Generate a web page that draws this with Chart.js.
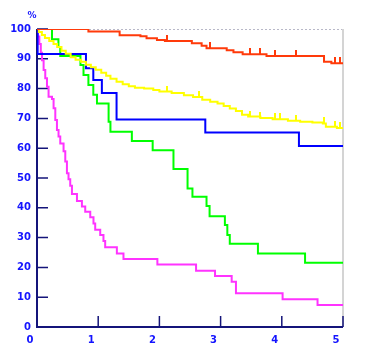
<!DOCTYPE html>
<html>
<head>
<meta charset="UTF-8">
<title>Survival curves</title>
<script src="https://cdn.jsdelivr.net/npm/chart.js@4.4.0/dist/chart.umd.min.js"></script>
<style>
    html, body { margin: 0; padding: 0; background: #fff; }
    #wrap { width: 365px; height: 364px; position: relative; }
</style>
</head>
<body>
<div id="wrap"><canvas id="km"></canvas></div>
<script>
// axis ticks
const xTicks = [0, 1, 2, 3, 4, 5];
const yTicks = [0, 10, 20, 30, 40, 50, 60, 70, 80, 90, 100];
const yUnit = '%';

// step curves: time (years) where the value changes, and the value after it
const redT = [0, 0.84, 1.35, 1.69, 1.79, 1.96, 2.09, 2.53, 2.69, 2.77, 3.10, 3.21, 3.36, 3.75, 4.69, 4.81, 5];
const redV = [100, 99.2, 97.9, 97.6, 96.9, 96.3, 96.0, 95.2, 94.4, 93.5, 92.9, 92.2, 91.5, 90.9, 89.0, 88.5, 88.5];

const yellowT = [0, 0.03, 0.08, 0.13, 0.2, 0.27, 0.33, 0.4, 0.47, 0.55, 0.63, 0.72, 0.8, 0.88, 0.96, 1.05, 1.13, 1.2, 1.3, 1.4, 1.5, 1.6, 1.75, 1.9, 2.0, 2.2, 2.4, 2.55, 2.7, 2.83, 2.95, 3.05, 3.15, 3.25, 3.35, 3.45, 3.65, 3.85, 4.1, 4.3, 4.5, 4.67, 4.72, 4.9, 5];
const yellowV = [100, 99, 98, 97, 96, 95, 94, 92.7, 91.7, 90.5, 89.7, 89, 88, 87.2, 86.3, 85.3, 84.3, 83.3, 82.3, 81.5, 80.8, 80.3, 80, 79.5, 79, 78.5, 77.8, 77.2, 76.3, 75.6, 75, 74.2, 73.3, 72.5, 71.2, 70.6, 70.1, 69.7, 69.2, 68.9, 68.6, 68.3, 67.2, 66.8, 66.8];

const blueT = [0, 0.01, 0.80, 0.92, 1.06, 1.30, 2.75, 4.28, 5];
const blueV = [100, 91.6, 86.8, 82.9, 78.5, 69.6, 65.3, 60.7, 60.7];

const greenT = [0, 0.245, 0.35, 0.38, 0.71, 0.76, 0.84, 0.92, 0.98, 1.17, 1.2, 1.55, 1.89, 2.23, 2.46, 2.54, 2.77, 2.82, 3.07, 3.11, 3.15, 3.61, 4.38, 5];
const greenV = [100, 96.6, 94, 90.9, 87.9, 84.6, 81.2, 77.9, 75, 68.9, 65.5, 62.4, 59.3, 53, 46.5, 43.7, 40.6, 37.2, 34.2, 30.9, 27.9, 24.7, 21.6, 21.6];

const magentaT = [0, 0.013, 0.038, 0.062, 0.082, 0.108, 0.135, 0.163, 0.189, 0.245, 0.271, 0.299, 0.326, 0.352, 0.380, 0.434, 0.462, 0.489, 0.515, 0.543, 0.571, 0.653, 0.734, 0.788, 0.870, 0.923, 0.951, 1.033, 1.086, 1.114, 1.305, 1.413, 1.967, 2.599, 2.909, 3.181, 3.251, 4.013, 4.584, 5];
const magentaV = [100, 97.5, 95, 92, 89.5, 86.2, 83.5, 80.6, 77.3, 76.5, 73.4, 69.5, 66.1, 63.9, 61.6, 59, 55.5, 51.6, 49.6, 47.4, 44.6, 42.3, 40.4, 38.7, 36.8, 34.7, 32.6, 30.9, 28.9, 26.8, 24.7, 22.8, 21, 18.9, 17.1, 15.2, 11.3, 9.3, 7.4, 7.4];

// censored observations (tick marks on the curves)
const redCensor = [2.12, 2.83, 3.48, 3.65, 3.89, 4.24, 4.69, 4.87, 4.95];
const yellowCensor = [2.12, 2.65, 3.48, 3.65, 3.89, 3.97, 4.24, 4.69, 4.87, 4.95];

const AXIS = '#14147a';
const LABEL = '#1414ff';

function steps(T, V) {
    return T.map((t, i) => ({ x: t, y: V[i] }));
}

function valueAt(T, V, t) {
    let v = V[0];
    for (let i = 0; i < T.length; i++) {
        if (T[i] <= t) v = V[i];
    }
    return v;
}

function censorMark(color) {
    const c = document.createElement('canvas');
    c.width = 2;
    c.height = 12;
    const g = c.getContext('2d');
    g.fillStyle = color;
    g.fillRect(0, 0, 2, 6);
    return c;
}

function curve(T, V, color, order) {
    return {
        data: steps(T, V),
        borderColor: color,
        borderWidth: 2,
        stepped: true,
        pointRadius: 0,
        fill: false,
        order: order
    };
}

function censors(times, T, V, color) {
    return {
        data: times.map(t => ({ x: t, y: valueAt(T, V, t) })),
        showLine: false,
        pointStyle: censorMark(color),
        pointRadius: 4,
        order: 1
    };
}

const framePlugin = {
    id: 'frame',
    beforeDatasetsDraw(chart) {
        const { ctx, chartArea: a, scales } = chart;
        ctx.save();
        // top dashed border
        ctx.strokeStyle = '#b8b8c8';
        ctx.lineWidth = 1;
        ctx.setLineDash([2, 2]);
        ctx.beginPath();
        ctx.moveTo(a.left, a.top + 0.5);
        ctx.lineTo(a.right, a.top + 0.5);
        ctx.stroke();
        ctx.setLineDash([]);
        // right border
        ctx.strokeStyle = '#d4d4d4';
        ctx.lineWidth = 2;
        ctx.beginPath();
        ctx.moveTo(a.right, a.top);
        ctx.lineTo(a.right, a.bottom);
        ctx.stroke();
        // inside tick marks
        ctx.strokeStyle = AXIS;
        ctx.lineWidth = 1.5;
        ctx.beginPath();
        yTicks.forEach(v => {
            const y = scales.y.getPixelForValue(v);
            ctx.moveTo(a.left, y);
            ctx.lineTo(a.left + 11, y);
        });
        xTicks.forEach(v => {
            const x = scales.x.getPixelForValue(v);
            ctx.moveTo(x, a.bottom);
            ctx.lineTo(x, a.bottom - 11);
        });
        ctx.stroke();
        // axes
        ctx.lineWidth = 2;
        ctx.beginPath();
        ctx.moveTo(a.left, a.top);
        ctx.lineTo(a.left, a.bottom);
        ctx.lineTo(a.right, a.bottom);
        ctx.stroke();
        ctx.restore();
    },
    afterDraw(chart) {
        const { ctx, chartArea: a } = chart;
        ctx.save();
        ctx.fillStyle = LABEL;
        ctx.font = 'bold 9px "DejaVu Sans"';
        ctx.textAlign = 'center';
        ctx.textBaseline = 'middle';
        ctx.fillText(yUnit, a.left - 5, 16);
        ctx.restore();
    }
};

const tickFont = { family: 'DejaVu Sans', size: 10, weight: 'bold' };

new Chart(document.getElementById('km'), {
    type: 'line',
    data: {
        datasets: [
            censors(redCensor, redT, redV, '#ff3a0a'),
            censors(yellowCensor, yellowT, yellowV, '#ffff00'),
            curve(redT, redV, '#ff3a0a', 2),
            curve(yellowT, yellowV, '#ffff00', 3),
            curve(blueT, blueV, '#0000ff', 4),
            curve(greenT, greenV, '#00ff00', 5),
            curve(magentaT, magentaV, '#ff33ff', 6)
        ]
    },
    options: {
        responsive: true,
        maintainAspectRatio: false,
        animation: false,
        layout: { padding: { top: 29, right: 22, left: 0, bottom: 0 } },
        plugins: { legend: { display: false }, tooltip: { enabled: false } },
        scales: {
            x: {
                type: 'linear',
                min: 0,
                max: 5,
                afterBuildTicks: s => { s.ticks = xTicks.map(v => ({ value: v })); },
                afterFit: s => { s.height = 37; },
                grid: { display: false, drawTicks: false },
                border: { display: false },
                ticks: { color: LABEL, font: tickFont, padding: 7, labelOffset: -7, maxRotation: 0, autoSkip: false }
            },
            y: {
                min: 0,
                max: 100,
                afterBuildTicks: s => { s.ticks = yTicks.map(v => ({ value: v })); },
                afterFit: s => { s.width = 37; },
                grid: { display: false, drawTicks: false },
                border: { display: false },
                ticks: { color: LABEL, font: tickFont, padding: 6, autoSkip: false }
            }
        }
    },
    plugins: [framePlugin]
});
</script>
</body>
</html>
